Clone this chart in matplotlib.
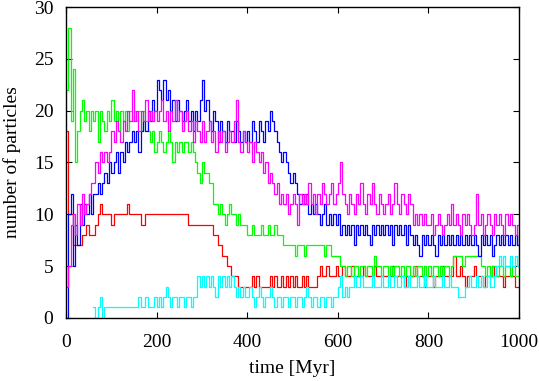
import numpy as np
import matplotlib
matplotlib.use("Agg")
import matplotlib.pyplot as plt

plt.rcParams['font.family'] = ['Liberation Serif', 'DejaVu Serif']

# time axis, one sample every 5 Myr
time_myr = np.arange(0, 1001, 5)

red = [
    18, 10, 10, 7, 7, 7, 7, 8, 8, 9, 8, 8, 8, 9, 10, 11, 10, 10, 10, 10,
    9, 10, 10, 10, 10, 10, 10, 11, 10, 10, 10, 10, 10, 9, 9, 10, 10, 10, 10, 10,
    10, 10, 10, 10, 10, 10, 10, 10, 10, 10, 10, 10, 10, 10, 9, 9, 9, 9, 9, 9,
    9, 9, 9, 9, 9, 8, 8, 7, 7, 6, 6, 5, 5, 4, 4, 4, 3, 3, 3, 3,
    3, 3, 4, 3, 4, 3, 3, 3, 3, 3, 4, 3, 4, 3, 3, 4, 3, 4, 3, 4,
    3, 4, 3, 3, 4, 3, 4, 3, 3, 3, 3, 4, 5, 4, 4, 5, 4, 4, 4, 5,
    4, 4, 5, 4, 4, 4, 5, 4, 4, 4, 4, 5, 4, 4, 4, 4, 5, 4, 4, 4,
    4, 4, 4, 4, 5, 4, 4, 4, 4, 3, 4, 4, 4, 4, 5, 4, 4, 4, 3, 4,
    4, 4, 3, 4, 4, 4, 5, 4, 4, 4, 4, 6, 4, 4, 5, 4, 3, 4, 4, 4,
    5, 4, 4, 4, 3, 4, 4, 4, 5, 4, 4, 4, 4, 3, 4, 4, 4, 4, 3, 3,
    3]

green = [
    22, 28, 19, 24, 15, 18, 20, 21, 19, 20, 18, 20, 19, 20, 17, 20, 19, 18, 20, 19,
    21, 19, 20, 18, 20, 19, 20, 18, 20, 19, 20, 19, 20, 18, 20, 19, 18, 17, 18, 16,
    17, 18, 17, 16, 17, 18, 17, 15, 17, 16, 17, 16, 17, 17, 16, 17, 16, 15, 14, 13,
    15, 14, 14, 13, 13, 11, 11, 10, 11, 10, 9, 10, 11, 10, 10, 9, 10, 9, 9, 9,
    8, 8, 9, 8, 8, 8, 9, 8, 8, 9, 8, 8, 9, 8, 8, 8, 7, 7, 7, 7,
    7, 6, 7, 7, 7, 6, 7, 7, 7, 7, 7, 7, 7, 7, 6, 7, 7, 6, 6, 6,
    6, 5, 5, 4, 5, 5, 4, 5, 5, 4, 5, 5, 4, 5, 5, 4, 6, 5, 5, 4,
    5, 5, 4, 5, 4, 5, 5, 4, 5, 4, 5, 5, 4, 5, 4, 5, 5, 4, 5, 4,
    5, 4, 5, 5, 4, 5, 4, 5, 5, 4, 5, 6, 6, 6, 6, 5, 6, 6, 6, 6,
    6, 6, 6, 5, 5, 4, 5, 4, 5, 5, 4, 5, 5, 4, 5, 5, 4, 5, 4, 4,
    4]

blue = [
    0, 10, 12, 5, 9, 7, 11, 9, 11, 10, 12, 10, 12, 12, 13, 12, 13, 14, 13, 15,
    14, 15, 16, 14, 16, 15, 17, 16, 17, 18, 17, 18, 16, 18, 19, 18, 20, 19, 21, 20,
    23, 22, 21, 23, 21, 22, 20, 21, 19, 21, 20, 19, 20, 21, 19, 20, 18, 20, 19, 21,
    23, 20, 21, 19, 18, 20, 19, 17, 19, 18, 17, 19, 18, 18, 17, 19, 18, 17, 18, 17,
    18, 17, 19, 18, 17, 19, 18, 17, 19, 18, 20, 19, 18, 17, 16, 15, 16, 15, 14, 13,
    14, 13, 12, 11, 12, 11, 12, 10, 11, 10, 11, 10, 9, 10, 11, 9, 10, 9, 10, 9,
    10, 8, 9, 8, 9, 8, 9, 7, 9, 8, 9, 8, 9, 8, 7, 9, 8, 9, 8, 9,
    8, 9, 8, 9, 7, 9, 8, 9, 8, 9, 7, 9, 8, 7, 8, 7, 6, 8, 7, 8,
    7, 8, 7, 6, 8, 7, 8, 7, 8, 7, 8, 7, 8, 7, 8, 7, 8, 7, 8, 7,
    8, 7, 6, 8, 7, 8, 7, 8, 6, 7, 8, 7, 8, 7, 8, 7, 8, 7, 8, 7,
    8]

magenta = [
    3, 5, 9, 10, 8, 11, 9, 12, 10, 11, 12, 13, 13, 15, 14, 16, 15, 16, 15, 16,
    18, 17, 19, 18, 17, 19, 18, 20, 19, 22, 19, 20, 18, 20, 19, 21, 19, 20, 19, 20,
    19, 20, 21, 19, 20, 18, 20, 19, 21, 19, 20, 18, 19, 20, 18, 19, 17, 19, 18, 17,
    19, 17, 18, 19, 17, 18, 16, 18, 17, 18, 16, 17, 18, 17, 19, 21, 17, 16, 18, 17,
    16, 17, 15, 17, 16, 15, 16, 14, 15, 13, 14, 13, 12, 13, 11, 12, 11, 12, 10, 11,
    12, 11, 9, 12, 11, 12, 11, 13, 11, 12, 10, 12, 11, 13, 12, 11, 12, 13, 11, 12,
    13, 15, 12, 11, 10, 12, 11, 10, 12, 11, 13, 11, 10, 12, 11, 13, 11, 10, 12, 11,
    10, 11, 12, 10, 11, 13, 11, 10, 12, 11, 10, 12, 11, 9, 10, 9, 10, 9, 10, 9,
    9, 10, 8, 9, 10, 9, 8, 9, 10, 9, 11, 9, 10, 9, 8, 10, 9, 10, 9, 8,
    9, 12, 9, 10, 8, 9, 10, 9, 8, 10, 9, 10, 9, 8, 10, 9, 10, 9, 8, 9,
    9]

nan = np.nan
cyan = [
    nan, nan, nan, nan, nan, nan, nan, nan, nan, nan, nan, nan, 1, 0, 1, 2, 0, 1, 1, 1,
    1, 1, 1, 1, 1, 1, 1, 1, 1, 1, 1, 1, 2, 1, 1, 2, 1, 1, 1, 2,
    1, 2, 1, 2, 3, 2, 1, 2, 2, 1, 2, 2, 1, 2, 2, 1, 2, 2, 4, 3,
    4, 3, 4, 3, 4, 3, 2, 4, 3, 4, 3, 4, 3, 4, 3, 2, 3, 2, 3, 2,
    2, 3, 2, 1, 2, 3, 2, 1, 2, 2, 3, 2, 1, 2, 2, 1, 2, 2, 1, 2,
    2, 1, 2, 2, 1, 2, 3, 2, 1, 2, 2, 1, 2, 2, 1, 2, 2, 1, 2, 2,
    3, 4, 2, 3, 2, 3, 3, 4, 3, 3, 4, 3, 3, 3, 3, 4, 3, 3, 3, 4,
    3, 3, 4, 3, 3, 4, 3, 3, 4, 3, 3, 4, 3, 3, 3, 4, 3, 3, 4, 3,
    3, 3, 4, 3, 3, 3, 4, 3, 3, 4, 3, 3, 3, 2, 2, 2, 3, 3, 4, 3,
    3, 4, 3, 4, 3, 3, 4, 3, 3, 4, 5, 6, 5, 6, 5, 5, 6, 5, 6, 5,
    6]

fig = plt.figure(figsize=(5.39, 3.81), dpi=100)
ax = fig.add_axes([0.1224, 0.166, 0.8406, 0.815])

series = [(red, '#ff0000'), (green, '#00ff00'), (blue, '#0000ff'),
          (magenta, '#ff00ff'), (cyan, '#00ffff')]
for vals, col in series:
    ax.plot(time_myr, vals, color=col, lw=0.9, drawstyle='steps-post')

ax.set_xlim(0, 1000)
ax.set_ylim(0, 30)
ax.set_xticks([0, 200, 400, 600, 800, 1000])
ax.set_yticks([0, 5, 10, 15, 20, 25, 30])
ax.tick_params(direction='in', top=True, right=True, length=4, width=0.8,
               labelsize=14)
ax.tick_params(axis='x', pad=12)
ax.tick_params(axis='y', pad=9)
ax.set_xlabel("time [Myr]", fontsize=14, labelpad=6)
ax.set_ylabel("number of particles", fontsize=14, labelpad=9)
for s in ax.spines.values():
    s.set_linewidth(1.0)

fig.savefig("out.png", dpi=100)
